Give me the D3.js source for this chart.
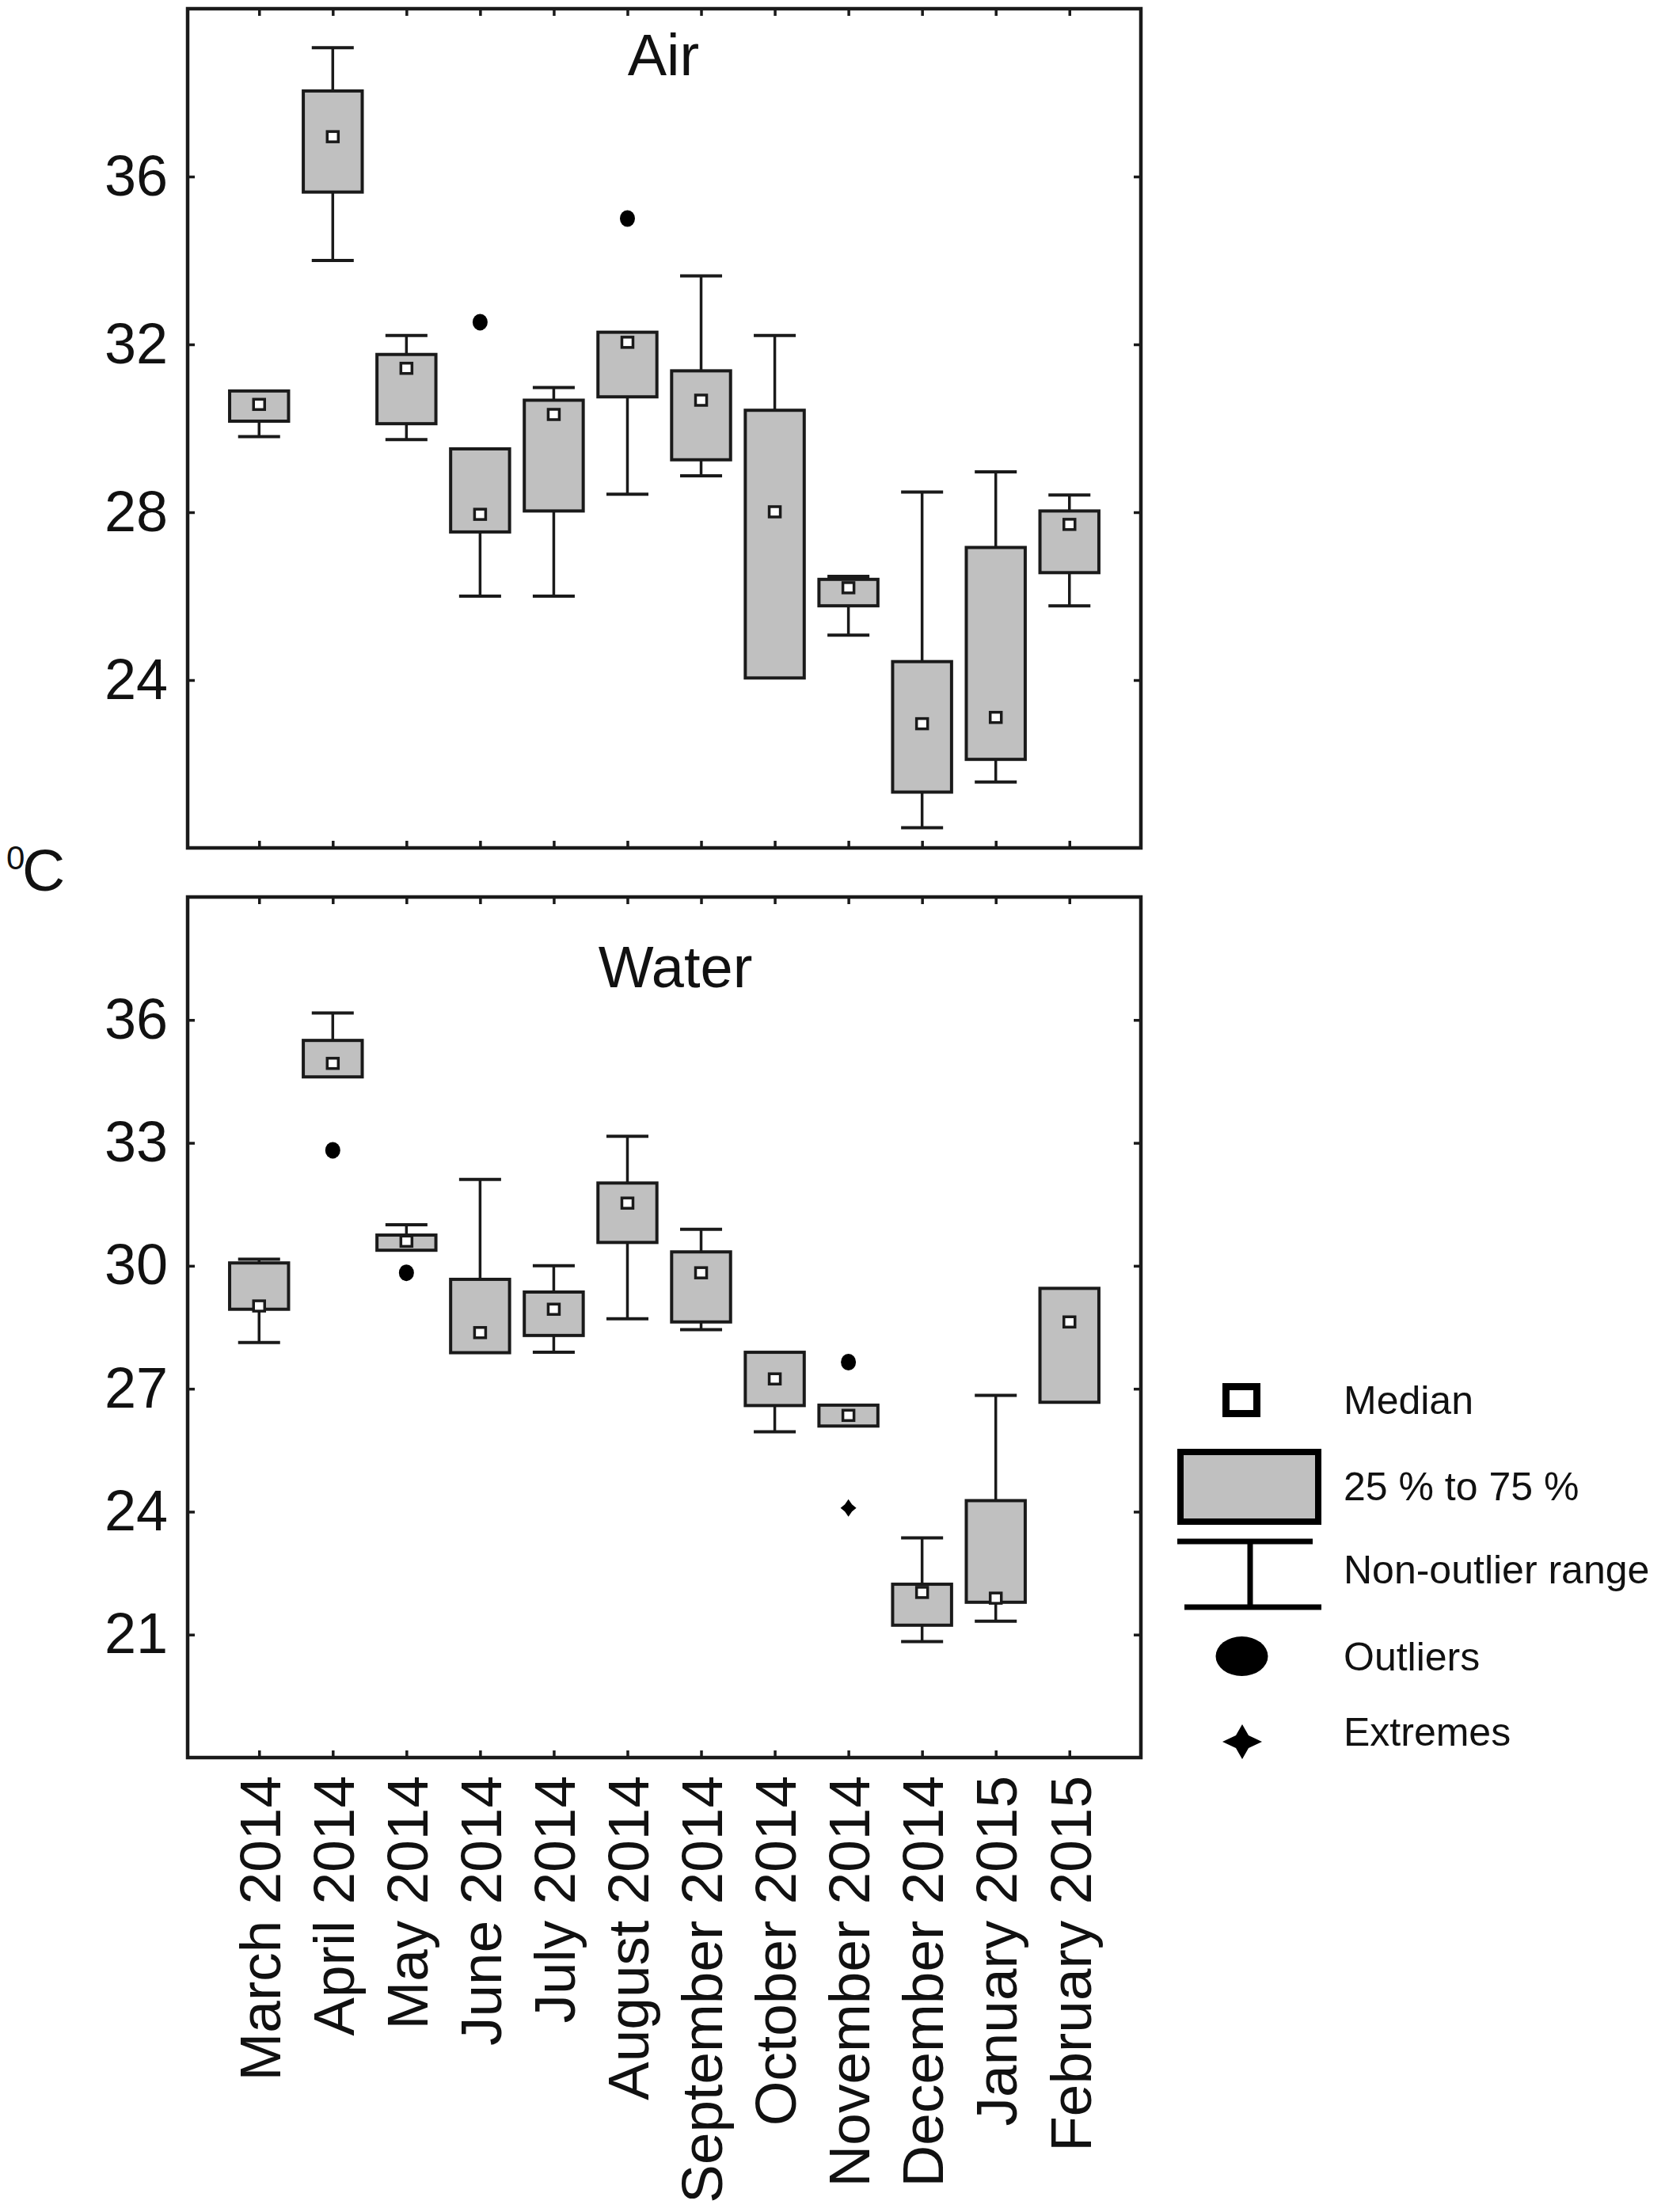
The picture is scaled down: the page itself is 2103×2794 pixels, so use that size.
<!DOCTYPE html>
<html><head><meta charset="utf-8">
<script src="https://cdn.jsdelivr.net/npm/d3@7"></script>
<style>
html,body{margin:0;padding:0;background:#fff;}
text{font-family:"Liberation Sans",Arial,Helvetica,sans-serif;fill:#111;}
</style>
</head><body>
<svg id="c" width="2103" height="2794"></svg>
<script>
// ---------- DATA ----------
const months = ["March 2014","April 2014","May 2014","June 2014","July 2014","August 2014",
  "September 2014","October 2014","November 2014","December 2014","January 2015","February 2015"];

// Air temperature (°C)
const airMin = [29.80, 34.00, 29.73, 26.00, 26.00, 28.43, 28.87, 24.05, 25.07, 20.48, 21.57, 25.77];
const airQ1  = [30.17, 35.63, 30.11, 27.53, 28.03, 30.75, 29.25, 24.05, 25.77, 21.33, 22.11, 26.56];
const airMed = [30.57, 36.95, 31.43, 27.95, 30.33, 32.05, 30.67, 28.01, 26.20, 22.96, 23.11, 27.71];
const airQ3  = [30.89, 38.04, 31.76, 29.51, 30.67, 32.29, 31.37, 30.43, 26.40, 24.44, 27.16, 28.03];
const airMax = [30.89, 39.07, 32.21, 29.51, 30.97, 32.29, 33.63, 32.21, 26.47, 28.48, 28.96, 28.41];
const airOutlierMonths = ["June 2014", "August 2014"];
const airOutlierValues = [32.53, 35.00];
const airExtremeMonths = [];
const airExtremeValues = [];
const airTicks = [24, 28, 32, 36];

// Water temperature (°C)
const waterMin = [28.13, 34.61, 30.38, 27.88, 27.89, 28.71, 28.44, 25.95, 26.09, 20.83, 21.33, 26.67];
const waterQ1  = [28.94, 34.61, 30.38, 27.88, 28.30, 30.57, 28.63, 26.59, 26.09, 21.23, 21.79, 26.67];
const waterMed = [29.02, 34.94, 30.60, 28.37, 28.94, 31.53, 29.83, 27.24, 26.35, 22.03, 21.89, 28.63];
const waterQ3  = [30.07, 35.50, 30.75, 29.67, 29.36, 32.02, 30.34, 27.89, 26.60, 22.23, 24.27, 29.45];
const waterMax = [30.16, 36.17, 31.00, 32.11, 30.00, 33.16, 30.89, 27.89, 26.60, 23.36, 26.84, 29.45];
const waterOutlierMonths = ["April 2014", "May 2014", "November 2014"];
const waterOutlierValues = [32.82, 29.83, 27.65];
const waterExtremeMonths = ["November 2014"];
const waterExtremeValues = [24.09];
const waterTicks = [21, 24, 27, 30, 33, 36];

const legendLabels = ["Median", "25 % to 75 %", "Non-outlier range", "Outliers", "Extremes"];

// ---------- DRAWING ----------
const svg = d3.select("#c");
svg.append("rect").attr("width",2103).attr("height",2794).attr("fill","#fff");

const INK = "#1a1a1a";
const frameL = 237, frameR = 1441;
const x = d3.scalePoint().domain(months).range([frameL, frameR]).padding(0.97);
const step = x.step();
const boxW = step * 0.80, capW = step * 0.57;

function starPath(cx, cy, a, b, k) {
  const p = d3.path();
  p.moveTo(cx, cy - b);
  p.lineTo(cx + k, cy - k);
  p.lineTo(cx + a, cy);
  p.lineTo(cx + k, cy + k);
  p.lineTo(cx, cy + b);
  p.lineTo(cx - k, cy + k);
  p.lineTo(cx - a, cy);
  p.lineTo(cx - k, cy - k);
  p.closePath();
  return p.toString();
}

function panel(cfg) {
  const y = d3.scaleLinear().domain(cfg.domain).range([cfg.bottom, cfg.top]);
  const g = svg.append("g");

  const style = s => {
    s.select(".domain").remove();
    s.selectAll(".tick line").attr("stroke", INK).attr("stroke-width", 3.5);
    s.selectAll("text").attr("font-size", 72).attr("fill", "#111")
      .attr("font-family", '"Liberation Sans",Arial,sans-serif');
  };

  g.append("g").attr("transform", `translate(${frameL},0)`)
    .call(d3.axisLeft(y).tickValues(cfg.ticks).tickSize(-9).tickPadding(25).tickFormat(d3.format("d")))
    .call(style);
  g.append("g").attr("transform", `translate(${frameR},0)`)
    .call(d3.axisRight(y).tickValues(cfg.ticks).tickSize(-9).tickFormat(""))
    .call(style);
  g.append("g").attr("transform", `translate(0,${cfg.top})`)
    .call(d3.axisTop(x).tickSize(-9).tickFormat(""))
    .call(style);
  const bx = g.append("g").attr("transform", `translate(0,${cfg.bottom})`)
    .call(d3.axisBottom(x).tickSize(-9).tickPadding(0).tickFormat(cfg.labels ? (d => d) : ""))
    .call(style);
  if (cfg.labels) {
    bx.selectAll("text")
      .attr("font-size", 73)
      .attr("text-anchor", "end")
      .attr("transform", "rotate(-90)")
      .attr("x", -23).attr("y", 0).attr("dy", "0.36em");
  }

  g.append("rect").attr("x", frameL).attr("y", cfg.top)
    .attr("width", frameR - frameL).attr("height", cfg.bottom - cfg.top)
    .attr("fill", "none").attr("stroke", INK).attr("stroke-width", 4.5);

  g.append("text").attr("x", cfg.titleX).attr("y", cfg.titleY)
    .attr("text-anchor", "middle").attr("font-size", 74).text(cfg.title);

  const rows = months.map((m, i) => ({m, min: cfg.min[i], q1: cfg.q1[i], med: cfg.med[i], q3: cfg.q3[i], max: cfg.max[i]}));
  const bg = g.append("g").selectAll("g").data(rows).join("g");

  bg.filter(d => d.max > d.q3).append("line")
    .attr("x1", d => x(d.m)).attr("x2", d => x(d.m))
    .attr("y1", d => y(d.max)).attr("y2", d => y(d.q3))
    .attr("stroke", INK).attr("stroke-width", 3.5);
  bg.filter(d => d.max > d.q3).append("line")
    .attr("x1", d => x(d.m) - capW/2).attr("x2", d => x(d.m) + capW/2)
    .attr("y1", d => y(d.max)).attr("y2", d => y(d.max))
    .attr("stroke", INK).attr("stroke-width", 4);
  bg.filter(d => d.min < d.q1).append("line")
    .attr("x1", d => x(d.m)).attr("x2", d => x(d.m))
    .attr("y1", d => y(d.q1)).attr("y2", d => y(d.min))
    .attr("stroke", INK).attr("stroke-width", 3.5);
  bg.filter(d => d.min < d.q1).append("line")
    .attr("x1", d => x(d.m) - capW/2).attr("x2", d => x(d.m) + capW/2)
    .attr("y1", d => y(d.min)).attr("y2", d => y(d.min))
    .attr("stroke", INK).attr("stroke-width", 4);

  bg.append("rect")
    .attr("x", d => x(d.m) - boxW/2).attr("width", boxW)
    .attr("y", d => y(d.q3)).attr("height", d => y(d.q1) - y(d.q3))
    .attr("fill", "#c0c0c0").attr("stroke", INK).attr("stroke-width", 4);

  bg.append("rect")
    .attr("x", d => x(d.m) - 7).attr("width", 14)
    .attr("y", d => y(d.med) - 6.5).attr("height", 13)
    .attr("fill", "#fff").attr("stroke", INK).attr("stroke-width", 3.5);

  g.append("g").selectAll("ellipse")
    .data(cfg.outM.map((m, i) => ({m, v: cfg.outV[i]})))
    .join("ellipse")
    .attr("cx", d => x(d.m)).attr("cy", d => y(d.v))
    .attr("rx", 9.5).attr("ry", 10.5).attr("fill", "#000");

  g.append("g").selectAll("path")
    .data(cfg.extM.map((m, i) => ({m, v: cfg.extV[i]})))
    .join("path")
    .attr("d", d => starPath(x(d.m), y(d.v), 10, 11, 4.5))
    .attr("fill", "#000");
}

panel({top: 11, bottom: 1071, domain: [20, 40], ticks: airTicks, title: "Air", titleX: 838, titleY: 95,
  min: airMin, q1: airQ1, med: airMed, q3: airQ3, max: airMax,
  outM: airOutlierMonths, outV: airOutlierValues, extM: airExtremeMonths, extV: airExtremeValues, labels: false});

panel({top: 1133, bottom: 2220, domain: [18, 39], ticks: waterTicks, title: "Water", titleX: 853, titleY: 1247,
  min: waterMin, q1: waterQ1, med: waterMed, q3: waterQ3, max: waterMax,
  outM: waterOutlierMonths, outV: waterOutlierValues, extM: waterExtremeMonths, extV: waterExtremeValues, labels: true});

svg.append("text").attr("x", 8).attr("y", 1098).attr("font-size", 42).text("0");
svg.append("text").attr("x", 28).attr("y", 1125).attr("font-size", 75).text("C");

// ---------- LEGEND ----------
const lg = svg.append("g");
const lx = 1568;
lg.append("rect").attr("x", lx - 19.5).attr("y", 1751.5).attr("width", 39).attr("height", 34)
  .attr("fill", "#fff").attr("stroke", "#000").attr("stroke-width", 9);
lg.append("rect").attr("x", 1491).attr("y", 1834).attr("width", 174).attr("height", 88)
  .attr("fill", "#c0c0c0").attr("stroke", "#000").attr("stroke-width", 8);
lg.append("line").attr("x1", 1487).attr("x2", 1658).attr("y1", 1947).attr("y2", 1947)
  .attr("stroke", "#000").attr("stroke-width", 7);
lg.append("line").attr("x1", 1579).attr("x2", 1579).attr("y1", 1947).attr("y2", 2030)
  .attr("stroke", "#000").attr("stroke-width", 7);
lg.append("line").attr("x1", 1496).attr("x2", 1669).attr("y1", 2030).attr("y2", 2030)
  .attr("stroke", "#000").attr("stroke-width", 7);
lg.append("ellipse").attr("cx", 1568.5).attr("cy", 2092).attr("rx", 33).attr("ry", 25).attr("fill", "#000");
lg.append("path").attr("d", starPath(1569, 2200, 25, 22, 8)).attr("fill", "#000");

const legendY = [1786, 1895, 2000, 2110, 2205];
lg.selectAll("text.lt").data(legendLabels).join("text").attr("class", "lt")
  .attr("x", 1697).attr("y", (d, i) => legendY[i]).attr("font-size", 50).text(d => d);
</script>
</body></html>
